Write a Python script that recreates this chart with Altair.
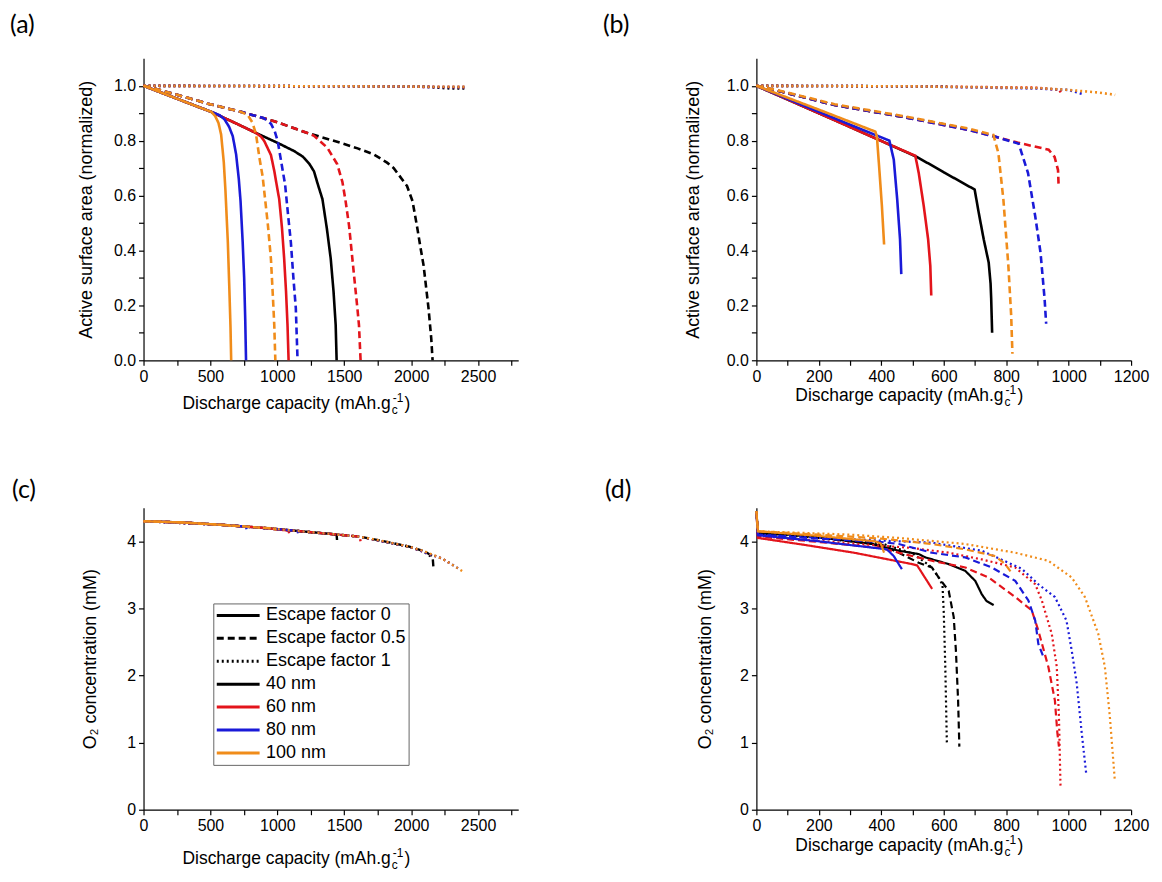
import altair as alt
import pandas as pd

# ---------------- categories / styling lists ----------------
SIZES = ["40 nm", "60 nm", "80 nm", "100 nm"]
FACTORS = ["Escape factor 0", "Escape factor 0.5", "Escape factor 1"]
SIZE_COLORS = ["#000000", "#e3141b", "#1a1ad8", "#f08c1a"]
FACTOR_DASHES = [[1, 0], [7, 4], [2, 3]]
LEGEND_LABELS = FACTORS + SIZES
LEGEND_COLORS = ["#000000", "#000000", "#000000"] + SIZE_COLORS
LEGEND_DASHES = FACTOR_DASHES + [[1, 0], [1, 0], [1, 0], [1, 0]]
PANEL_LABELS = ["(a)", "(b)", "(c)", "(d)"]
X_TITLE_PARTS = ["Discharge capacity (mAh.g", "c", "-1", ")"]
Y_TITLE_AREA = "Active surface area (normalized)"
Y_TITLE_O2 = "O\u2082 concentration (mM)"

# tick values
X_TICKS_WIDE = [0, 250, 500, 750, 1000, 1250, 1500, 1750, 2000, 2250, 2500, 2750]
X_TICKS_NARROW = [0, 100, 200, 300, 400, 500, 600, 700, 800, 900, 1000, 1100, 1200]
Y_TICKS_AREA = [0.0, 0.1, 0.2, 0.3, 0.4, 0.5, 0.6, 0.7, 0.8, 0.9, 1.0]
Y_TICKS_O2 = [0, 0.5, 1, 1.5, 2, 2.5, 3, 3.5, 4]

# ---------------- panel (a): active surface area vs capacity ----------------
a_ef0_40 = [(0, 1.0), (250, 0.953), (506, 0.905), (700, 0.861), (841, 0.828), (1002, 0.792),
            (1126, 0.762), (1190, 0.742), (1240, 0.715), (1274, 0.688), (1300, 0.645),
            (1337, 0.587), (1370, 0.48), (1399, 0.37), (1420, 0.25), (1436, 0.128), (1443, 0.0)]
a_ef0_60 = [(0, 1.0), (250, 0.953), (506, 0.905), (700, 0.861), (841, 0.828), (878, 0.815),
            (903, 0.798), (952, 0.748), (977, 0.69), (1000, 0.625), (1014, 0.587), (1035, 0.48),
            (1051, 0.37), (1065, 0.25), (1076, 0.128), (1084, 0.0)]
a_ef0_80 = [(0, 1.0), (250, 0.953), (506, 0.905), (568, 0.893), (605, 0.878), (640, 0.85),
            (667, 0.816), (692, 0.75), (712, 0.66), (725, 0.58), (741, 0.43), (752, 0.3),
            (760, 0.15), (766, 0.0)]
a_ef0_100 = [(0, 1.0), (250, 0.953), (506, 0.905), (535, 0.89), (560, 0.865), (580, 0.822),
             (600, 0.72), (612, 0.62), (630, 0.43), (642, 0.25), (650, 0.12), (655, 0.0)]
a_ef05_40 = [(0, 1.0), (233, 0.97), (481, 0.935), (729, 0.905), (977, 0.871), (1225, 0.828),
             (1473, 0.792), (1600, 0.772), (1721, 0.75), (1820, 0.72), (1870, 0.70),
             (1969, 0.635), (2010, 0.58), (2043, 0.49), (2070, 0.41), (2093, 0.345),
             (2130, 0.188), (2150, 0.08), (2160, 0.0)]
a_ef05_60 = [(0, 1.0), (233, 0.97), (481, 0.935), (729, 0.905), (977, 0.871), (1225, 0.828),
             (1274, 0.818), (1374, 0.774), (1448, 0.714), (1486, 0.65), (1510, 0.58),
             (1536, 0.49), (1573, 0.31), (1600, 0.18), (1610, 0.128), (1622, 0.0)]
a_ef05_80 = [(0, 1.0), (233, 0.97), (481, 0.935), (729, 0.905), (900, 0.882), (952, 0.862),
             (980, 0.835), (1002, 0.80), (1030, 0.72), (1058, 0.64), (1080, 0.53), (1101, 0.43),
             (1120, 0.30), (1138, 0.19), (1151, 0.0)]
a_ef05_100 = [(0, 1.0), (233, 0.97), (481, 0.935), (729, 0.905), (779, 0.893), (815, 0.865),
              (841, 0.822), (866, 0.738), (890, 0.67), (910, 0.58), (928, 0.50), (952, 0.37),
              (968, 0.22), (977, 0.128), (985, 0.0)]
a_ef1_40 = [(0, 1.0), (800, 0.999), (1600, 0.998), (2100, 0.997), (2200, 0.993), (2300, 0.99),
            (2400, 0.99)]
a_ef1_60 = [(0, 1.0), (1600, 0.998), (2400, 0.995)]
a_ef1_80 = [(0, 1.0), (1600, 0.998), (2400, 0.995)]
a_ef1_100 = [(0, 1.0), (1600, 0.998), (2410, 0.996)]

# ---------------- panel (b) ----------------
b_ef0_40 = [(0, 1.0), (100, 0.95), (200, 0.9), (300, 0.85), (408, 0.795), (514, 0.741),
            (600, 0.685), (699, 0.622), (712, 0.538), (728, 0.441), (744, 0.356),
            (750, 0.28), (752, 0.224), (755, 0.10)]
b_ef0_60 = [(0, 1.0), (200, 0.9), (408, 0.795), (509, 0.745), (520, 0.682), (536, 0.562),
            (550, 0.441), (557, 0.344), (560, 0.236)]
b_ef0_80 = [(0, 1.0), (200, 0.905), (426, 0.80), (440, 0.731), (451, 0.586), (460, 0.441),
            (464, 0.314)]
b_ef0_100 = [(0, 1.0), (200, 0.913), (381, 0.833), (386, 0.815), (393, 0.707), (402, 0.562),
             (409, 0.422)]
b_ef05_40 = [(0, 1.0), (82, 0.978), (250, 0.93), (463, 0.888), (600, 0.86), (650, 0.848)]
b_ef05_60 = [(0, 1.0), (82, 0.978), (250, 0.93), (463, 0.888), (676, 0.84), (764, 0.815),
             (840, 0.792), (936, 0.767), (955, 0.741), (966, 0.693), (968, 0.634)]
b_ef05_80 = [(0, 1.0), (82, 0.978), (250, 0.93), (463, 0.888), (676, 0.84), (764, 0.815),
             (840, 0.789), (870, 0.682), (893, 0.525), (910, 0.392), (923, 0.224), (928, 0.133)]
b_ef05_100 = [(0, 1.0), (82, 0.98), (250, 0.933), (463, 0.891), (676, 0.845), (759, 0.821),
              (775, 0.755), (791, 0.586), (807, 0.344), (816, 0.163), (820, 0.024)]
b_ef1_40 = [(0, 1.0), (300, 0.999), (610, 0.997)]
b_ef1_60 = [(0, 1.0), (500, 0.998), (900, 0.993), (970, 0.985), (975, 0.975)]
b_ef1_80 = [(0, 1.0), (500, 0.998), (900, 0.99), (1000, 0.985), (1045, 0.97)]
b_ef1_100 = [(0, 1.0), (500, 0.998), (900, 0.992), (1000, 0.985), (1100, 0.975), (1149, 0.967)]

# ---------------- panel (c): O2 concentration vs capacity ----------------
c_ef0_40 = [(0, 4.30), (300, 4.28), (624, 4.24), (900, 4.20), (1120, 4.16), (1400, 4.11),
            (1443, 4.10), (1446, 4.02)]
c_ef0_60 = [(0, 4.30), (300, 4.28), (624, 4.24), (900, 4.20), (1084, 4.16), (1088, 4.12)]
c_ef0_80 = [(0, 4.30), (300, 4.28), (624, 4.24), (766, 4.22), (770, 4.18)]
c_ef0_100 = [(0, 4.30), (300, 4.28), (624, 4.24), (655, 4.23)]
c_ef05_40 = [(0, 4.30), (300, 4.28), (624, 4.24), (900, 4.20), (1120, 4.16), (1400, 4.11),
             (1614, 4.07), (1800, 4.00), (1986, 3.92), (2100, 3.85), (2160, 3.78), (2166, 3.62)]
c_ef05_60 = [(0, 4.30), (300, 4.28), (624, 4.24), (900, 4.20), (1120, 4.16), (1400, 4.11),
             (1614, 4.07), (1622, 4.00)]
c_ef05_80 = [(0, 4.30), (300, 4.28), (624, 4.24), (900, 4.20), (1120, 4.16), (1151, 4.15),
             (1155, 4.12)]
c_ef05_100 = [(0, 4.30), (300, 4.28), (624, 4.24), (900, 4.20), (985, 4.19), (988, 4.16)]
c_ef1_40 = [(0, 4.30), (624, 4.24), (1120, 4.16), (1614, 4.07), (1986, 3.92), (2100, 3.84),
            (2150, 3.77)]
c_ef1_60 = [(0, 4.30), (624, 4.24), (1120, 4.16), (1614, 4.07), (1986, 3.92), (2234, 3.74),
            (2300, 3.66)]
c_ef1_80 = [(0, 4.30), (624, 4.24), (1120, 4.16), (1614, 4.07), (1986, 3.92), (2234, 3.74),
            (2350, 3.60)]
c_ef1_100 = [(0, 4.30), (300, 4.28), (624, 4.24), (900, 4.20), (1120, 4.16), (1400, 4.11),
             (1614, 4.07), (1800, 4.00), (1986, 3.92), (2100, 3.85), (2234, 3.74),
             (2300, 3.66), (2395, 3.54)]

# ---------------- panel (d) ----------------
d_ef0_40 = [(0, 4.45), (5, 4.12), (100, 4.10), (200, 4.06), (371, 3.96), (456, 3.86),
            (520, 3.81), (541, 3.76), (616, 3.66), (669, 3.56), (701, 3.41), (722, 3.21),
            (737, 3.11), (760, 3.05)]
d_ef0_60 = [(0, 4.45), (5, 4.05), (150, 3.95), (313, 3.83), (499, 3.66), (515, 3.64),
            (563, 3.29)]
d_ef0_80 = [(0, 4.45), (5, 4.09), (200, 4.0), (418, 3.88), (440, 3.78), (466, 3.585)]
d_ef0_100 = [(0, 4.45), (5, 4.15), (200, 4.08), (380, 4.0), (398, 3.97), (409, 3.83)]
d_ef05_40 = [(0, 4.45), (5, 4.12), (200, 4.05), (400, 3.95), (456, 3.83), (520, 3.68),
             (562, 3.61), (584, 3.46), (616, 3.26), (632, 2.87), (639, 2.37), (646, 1.63),
             (650, 0.94)]
d_ef05_60 = [(0, 4.45), (5, 4.07), (200, 3.99), (400, 3.9), (456, 3.83), (562, 3.71),
             (669, 3.61), (744, 3.46), (829, 3.17), (882, 2.97), (903, 2.67), (935, 2.13),
             (956, 1.63), (964, 1.14), (969, 0.94)]
d_ef05_80 = [(0, 4.45), (5, 4.1), (200, 4.04), (400, 3.99), (456, 3.96), (562, 3.83),
             (669, 3.76), (754, 3.61), (829, 3.41), (871, 3.12), (893, 2.82), (903, 2.47),
             (919, 2.28)]
d_ef05_100 = [(0, 4.45), (5, 4.15), (200, 4.1), (400, 4.04), (562, 3.96), (669, 3.88),
              (765, 3.78), (797, 3.66), (820, 3.51)]
d_ef1_40 = [(0, 4.45), (5, 4.12), (200, 4.06), (400, 3.97), (500, 3.82), (560, 3.62),
            (584, 3.46), (596, 3.35), (600, 2.95), (605, 2.13), (610, 1.0)]
d_ef1_60 = [(0, 4.45), (5, 4.08), (300, 3.97), (500, 3.9), (616, 3.83), (722, 3.73),
            (829, 3.61), (893, 3.36), (914, 3.12), (946, 2.62), (962, 2.13), (969, 1.39),
            (974, 0.35)]
d_ef1_80 = [(0, 4.45), (5, 4.1), (300, 4.03), (562, 3.98), (722, 3.86), (850, 3.59),
            (903, 3.36), (956, 3.17), (993, 2.82), (1010, 2.37), (1026, 1.88), (1042, 1.14),
            (1056, 0.55)]
d_ef1_100 = [(0, 4.45), (5, 4.15), (300, 4.1), (456, 4.05), (669, 3.96), (829, 3.83),
             (935, 3.71), (1010, 3.46), (1052, 3.17), (1095, 2.62), (1116, 2.13), (1132, 1.39),
             (1148, 0.43)]


def table(ef0, ef05, ef1):
    out = {}
    for k, s in enumerate(SIZES):
        out[(s, FACTORS[1])] = ef05[k]
        out[(s, FACTORS[2])] = ef1[k]
        out[(s, FACTORS[0])] = ef0[k]
    return out


PANEL_A = table([a_ef0_40, a_ef0_60, a_ef0_80, a_ef0_100],
                [a_ef05_40, a_ef05_60, a_ef05_80, a_ef05_100],
                [a_ef1_40, a_ef1_60, a_ef1_80, a_ef1_100])
PANEL_B = table([b_ef0_40, b_ef0_60, b_ef0_80, b_ef0_100],
                [b_ef05_40, b_ef05_60, b_ef05_80, b_ef05_100],
                [b_ef1_40, b_ef1_60, b_ef1_80, b_ef1_100])
PANEL_C = table([c_ef0_40, c_ef0_60, c_ef0_80, c_ef0_100],
                [c_ef05_40, c_ef05_60, c_ef05_80, c_ef05_100],
                [c_ef1_40, c_ef1_60, c_ef1_80, c_ef1_100])
PANEL_D = table([d_ef0_40, d_ef0_60, d_ef0_80, d_ef0_100],
                [d_ef05_40, d_ef05_60, d_ef05_80, d_ef05_100],
                [d_ef1_40, d_ef1_60, d_ef1_80, d_ef1_100])

W, H = 376, 303
FONT = "Liberation Sans"
XT_SIZE = 17.5
XT_SMALL = 12


def frame(tab, size):
    rows = []
    for (s, f), pts in tab.items():
        if s != size:
            continue
        for i, (x, y) in enumerate(pts):
            rows.append({"x": x, "y": y, "size": s, "factor": f, "i": i})
    return pd.DataFrame(rows)


def text(txt, x, y, size, align="left", baseline="alphabetic", font=FONT):
    return alt.Chart(alt.Data(values=[{}])).mark_text(
        align=align, baseline=baseline, fontSize=size, font=font, color="black"
    ).encode(x=alt.value(x), y=alt.value(y), text=alt.value(txt))


def panel(tab, xmax, ymax, xticks, xstep, yticks, ymode, ytitle, ypad, label, lab_dx, lab_dy,
          title_dy, stroke_w, with_legend=False):
    if ymode == "area":
        ylabel_expr = "round(datum.value*10) % 2 === 0 ? datum.label : ''"
        yfmt = ".1f"
    else:
        ylabel_expr = "datum.value % 1 === 0 ? datum.label : ''"
        yfmt = "d"
    xaxis = alt.Axis(values=xticks, labelExpr=f"datum.value % {xstep} === 0 ? datum.label : ''",
                     format="d", title=None, labelFlush=False)
    yaxis = alt.Axis(values=yticks, labelExpr=ylabel_expr, format=yfmt, title=ytitle,
                     titlePadding=ypad, labelFlush=False)
    xs = alt.Scale(domain=[0, xmax], nice=False, zero=False)
    ys = alt.Scale(domain=[0, ymax], nice=False, zero=False)
    layers = []
    for s in SIZES:
        layers.append(
            alt.Chart(frame(tab, s)).mark_line(strokeWidth=stroke_w).encode(
                x=alt.X("x:Q", scale=xs, axis=xaxis),
                y=alt.Y("y:Q", scale=ys, axis=yaxis),
                color=alt.Color("size:N", scale=alt.Scale(domain=SIZES, range=SIZE_COLORS),
                                legend=None),
                strokeDash=alt.StrokeDash("factor:N",
                                          scale=alt.Scale(domain=FACTORS, range=FACTOR_DASHES),
                                          legend=None),
                detail="factor:N",
                order=alt.Order("i:Q"),
            )
        )
    if with_legend:
        leg = alt.Legend(orient="none", legendX=70, legendY=96, title=None,
                         symbolType="stroke", symbolSize=1849, symbolStrokeWidth=3,
                         labelFontSize=18, labelFont=FONT, labelColor="black",
                         labelOffset=5, rowPadding=3, clipHeight=20, padding=2,
                         strokeColor="#666666", labelLimit=400)
        ldf = pd.DataFrame({"key": LEGEND_LABELS})
        layers.append(
            alt.Chart(ldf).mark_line(strokeWidth=3).encode(
                x=alt.value(0), y=alt.value(0),
                color=alt.Color("key:N", scale=alt.Scale(domain=LEGEND_LABELS,
                                                         range=LEGEND_COLORS), legend=leg),
                strokeDash=alt.StrokeDash("key:N", scale=alt.Scale(domain=LEGEND_LABELS,
                                                                   range=LEGEND_DASHES),
                                          legend=leg),
            )
        )
    # x-axis title with subscript / superscript
    xend = 248
    by = H + title_dy
    layers.append(text(X_TITLE_PARTS[0], xend, by, XT_SIZE, align="right"))
    layers.append(text(X_TITLE_PARTS[1], xend + 1, by + 5, XT_SMALL))
    layers.append(text(X_TITLE_PARTS[2], xend + 2, by - 7, XT_SMALL))
    layers.append(text(X_TITLE_PARTS[3], xend + 14, by, XT_SIZE))
    # panel label
    layers.append(text(label, lab_dx, lab_dy, 25, baseline="middle", font="Lato"))
    return alt.layer(*layers).resolve_scale(color="independent", strokeDash="independent") \
        .properties(width=W, height=H)


pa = panel(PANEL_A, 2800, 1.1, X_TICKS_WIDE, 500, Y_TICKS_AREA, "area", Y_TITLE_AREA, 18,
           PANEL_LABELS[0], -134, -33, 49, 2.6)
pb = panel(PANEL_B, 1200, 1.1, X_TICKS_NARROW, 200, Y_TICKS_AREA, "area", Y_TITLE_AREA, 24,
           PANEL_LABELS[1], -154, -33, 41, 2.6)
pc = panel(PANEL_C, 2800, 4.5, X_TICKS_WIDE, 500, Y_TICKS_O2, "o2", Y_TITLE_O2, 27,
           PANEL_LABELS[2], -132, -18, 54, 2.4, with_legend=True)
pd_ = panel(PANEL_D, 1200, 4.5, X_TICKS_NARROW, 200, Y_TICKS_O2, "o2", Y_TITLE_O2, 25,
            PANEL_LABELS[3], -152, -18, 41, 2.2)

chart = alt.concat(pa, pb, pc, pd_, columns=2, spacing={"row": 148, "column": 239},
                   bounds="flush").resolve_scale(
    color="independent", strokeDash="independent"
).properties(
    padding={"left": 2, "top": 4, "right": 5, "bottom": 5}, background="white"
).configure_view(stroke=None).configure_axis(
    grid=False, domainColor="black", tickColor="black", labelColor="black",
    titleColor="black", labelFont=FONT, titleFont=FONT, labelFontSize=16,
    titleFontSize=18, titleFontWeight="normal", tickSize=5, domainWidth=1.2, tickWidth=1.2,
    labelPadding=3
)

chart.save("out.html", embed_options={"renderer": "svg", "actions": False})
